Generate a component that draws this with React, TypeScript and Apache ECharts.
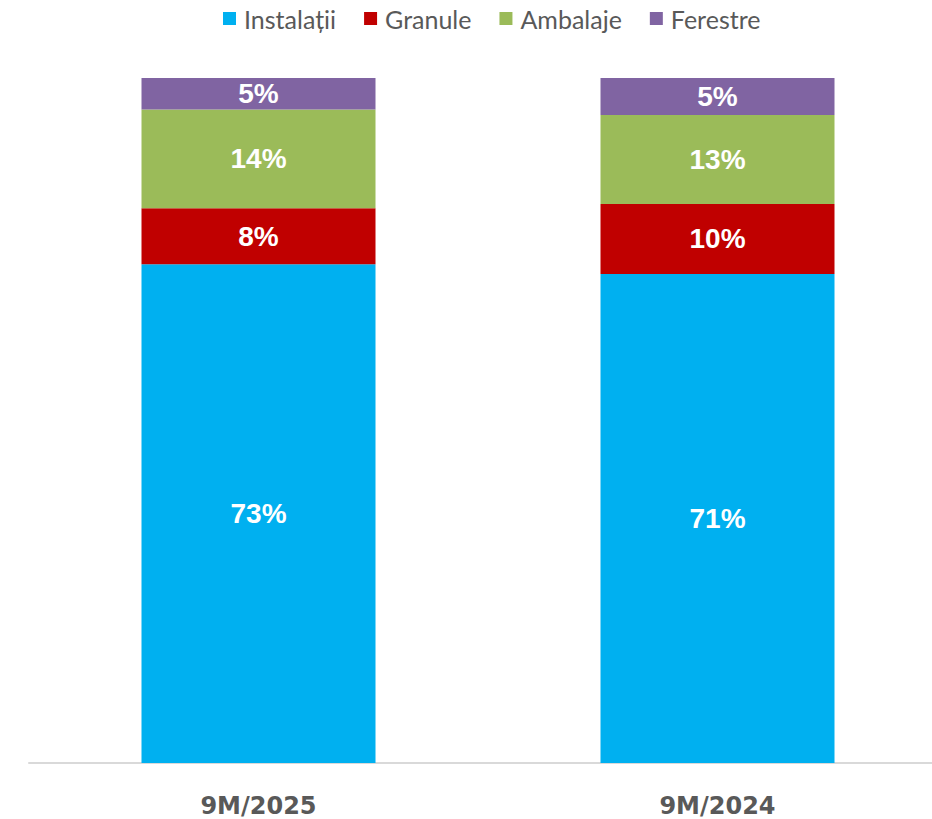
import React, { useEffect, useRef } from "react";
import * as echarts from "echarts";

const categories = ["9M/2025", "9M/2024"];
const seriesNames = ["Instalații", "Granule", "Ambalaje", "Ferestre"];
const instalatii = [72.8, 71.4];
const granule = [8.2, 10.2];
const ambalaje = [14.4, 13.0];
const ferestre = [4.6, 5.4];
const colors = ["#00B0F0", "#C00000", "#9BBB59", "#8064A2"];

export default function App() {
  const ref = useRef<HTMLDivElement>(null);
  useEffect(() => {
    if (!ref.current) return;
    const chart = echarts.init(ref.current, null, { renderer: "svg" });
    const values = [instalatii, granule, ambalaje, ferestre];
    chart.setOption({
      animation: false,
      color: colors,
      legend: {
        top: 1,
        left: 218,
        icon: "rect",
        itemWidth: 13,
        itemHeight: 13,
        itemGap: 28,
        data: seriesNames,
        textStyle: {
          fontFamily: "Lato",
          fontSize: 25,
          color: "#595959",
          padding: [0, 0, 0, 3],
        },
      },
      grid: { left: 29, width: 918, top: 78, bottom: 56, containLabel: false },
      xAxis: {
        type: "category",
        data: categories,
        axisLine: { lineStyle: { color: "#D9D9D9", width: 2 } },
        axisTick: { show: false },
        axisLabel: {
          margin: 31,
          fontFamily: "'DejaVu Sans', sans-serif",
          fontWeight: "bold",
          fontSize: 24,
          color: "#595959",
        },
      },
      yAxis: { type: "value", min: 0, max: 100, show: false, splitLine: { show: false } },
      series: seriesNames.map((name, i) => ({
        name,
        type: "bar",
        stack: "total",
        barWidth: 234,
        data: values[i],
        label: {
          show: true,
          position: "inside",
          formatter: (p: any) => Math.round(p.value) + "%",
          color: "#FFFFFF",
          fontFamily: "'Liberation Sans', Arial, sans-serif",
          fontWeight: "bold",
          fontSize: 28,
        },
      })),
    });
    return () => chart.dispose();
  }, []);
  return (
    <div
      style={{
        position: "absolute",
        left: 0,
        top: 0,
        width: 932,
        height: 819,
        overflow: "hidden",
      }}
    >
      <div ref={ref} style={{ width: 960, height: 819 }} />
    </div>
  );
}
